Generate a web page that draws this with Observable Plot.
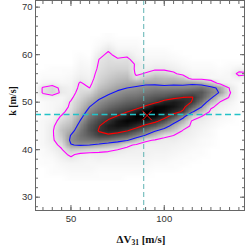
<!DOCTYPE html>
<html><head><meta charset="utf-8">
<script src="https://cdn.jsdelivr.net/npm/d3@7"></script>
<script src="https://cdn.jsdelivr.net/npm/@observablehq/plot@0.6"></script>
<style>html,body{margin:0;padding:0;background:#fff}svg{display:block}</style>
</head><body><div id="chart"></div>
<script>
// grid of sample centres (ΔV31 in m/s, k in m/s)
const xCenters = [30,35,40,45,50,55,60,65,70,75,80,85,90,95,100,105,110,115,120,125,130,135,140,145];
const yCenters = [34,35,36,37,38,39,40,41,42,43,44,45,46,47,48,49,50,51,52,53,54,55,56,57,58,59,60,61,62,63,64];
// posterior density (grey level, 0 = white, 100 = black), one column per xCenter, rows k = 34 ... 64
const densityColumns = [
/*30*/ [0,0,0,0,0,0,1,1,1,1,1,1,1,1,0,0,0,0,0,0,0,0,0,0,0,0,0,0,0,0,0],
/*35*/ [0,0,0,1,1,2,2,3,3,3,3,3,3,2,2,2,2,5,11,11,4,2,1,0,0,0,0,0,0,0,0],
/*40*/ [0,1,1,1,2,3,5,6,8,8,8,7,5,4,3,3,3,5,16,15,5,2,1,1,0,0,0,0,0,0,0],
/*45*/ [0,1,2,3,5,7,9,13,18,22,24,20,15,11,7,5,4,4,8,7,3,2,1,1,0,0,0,0,0,0,0],
/*50*/ [1,2,3,4,8,12,22,39,44,41,33,27,22,18,15,12,11,8,6,5,4,3,2,1,0,0,0,0,0,0,0],
/*55*/ [1,2,3,4,5,7,20,42,52,55,52,47,41,35,30,25,21,17,14,12,11,7,5,4,3,2,1,0,0,0,0],
/*60*/ [1,2,3,3,4,6,17,40,55,64,68,66,60,53,46,40,33,25,17,10,7,5,4,3,2,1,0,0,0,0,0],
/*65*/ [1,1,2,3,5,7,14,36,58,74,79,77,72,65,57,50,44,37,30,24,19,16,14,12,11,10,7,4,2,1,0],
/*70*/ [1,1,2,3,4,7,12,30,55,75,86,88,80,74,66,58,51,44,37,30,25,21,18,16,14,13,12,9,5,2,1],
/*75*/ [1,1,2,3,4,6,10,25,48,70,85,93,92,79,72,64,56,49,43,36,30,25,21,17,14,11,7,4,2,1,0],
/*80*/ [0,1,2,3,4,5,7,13,42,64,79,92,98,90,77,69,61,54,47,40,33,27,22,17,14,12,8,4,2,1,0],
/*85*/ [0,1,2,3,4,5,6,8,28,52,70,84,96,100,86,72,64,56,49,43,33,13,8,8,9,6,4,3,2,1,0],
/*90*/ [0,1,2,3,4,5,5,6,12,38,58,74,90,100,100,81,68,61,53,46,36,22,11,6,4,3,2,1,0,0,0],
/*95*/ [0,0,1,2,3,4,5,6,9,26,42,66,82,97,100,96,74,66,57,49,35,28,17,8,5,3,2,1,0,0,0],
/*100*/[0,0,1,2,3,4,5,6,7,13,32,50,70,84,95,97,85,68,58,47,33,26,16,8,5,3,2,1,0,0,0],
/*105*/[0,0,1,1,2,3,4,5,7,10,22,32,48,70,84,92,90,74,60,48,35,25,12,6,4,2,1,0,0,0,0],
/*110*/[0,0,0,1,1,2,3,4,5,7,9,18,30,46,76,83,85,78,62,48,34,20,6,4,2,1,0,0,0,0,0],
/*115*/[0,0,0,0,1,1,2,3,4,5,6,7,8,20,42,62,77,79,66,50,36,5,4,2,1,0,0,0,0,0,0],
/*120*/[0,0,0,0,0,1,1,2,2,3,4,5,7,10,25,40,54,64,66,55,30,6,3,2,1,0,0,0,0,0,0],
/*125*/[0,0,0,0,0,0,0,1,1,2,2,3,4,6,7,12,28,44,50,46,20,3,3,2,1,0,0,0,0,0,0],
/*130*/[0,0,0,0,0,0,0,0,0,0,0,1,2,3,4,6,9,20,38,35,5,3,2,1,0,0,0,0,0,0,0],
/*135*/[0,0,0,0,0,0,0,0,0,0,0,0,1,1,2,3,5,9,11,9,4,3,3,2,1,0,0,0,0,0,0],
/*140*/[0,0,0,0,0,0,0,0,0,0,0,0,0,0,1,1,1,2,2,2,2,6,13,5,1,0,0,0,0,0,0],
/*145*/[0,0,0,0,0,0,0,0,0,0,0,0,0,0,0,0,1,1,1,1,1,4,12,4,1,0,0,0,0,0,0]
];
// contour levels (outer, middle, inner)
const contourLevels = [10, 40, 78];
// reference values
const refDeltaV = [89];
const refK = [47.4];
const bestFit = [{dv: 90.8, k: 47.2}];
// axis ticks
const xMajor = [50, 100];
const xMinor = [35,40,45,50,55,60,65,70,75,80,85,90,95,100,105,110,115,120,125,130,135,140];
const yMajor = [30, 40, 50, 60, 70];
const yMinor = [28,30,32,34,36,38,40,42,44,46,48,50,52,54,56,58,60,62,64,66,68,70];

const nx = xCenters.length, ny = yCenters.length;
const dxCell = xCenters[1] - xCenters[0], dyCell = yCenters[1] - yCenters[0];
const grid = [];
for (let j = 0; j < ny; j++) for (let i = 0; i < nx; i++) grid.push(densityColumns[i][j]);
const bounds = {
  width: nx, height: ny,
  x1: xCenters[0] - dxCell / 2, x2: xCenters[nx - 1] + dxCell / 2,
  y1: yCenters[0] - dyCell / 2, y2: yCenters[ny - 1] + dyCell / 2
};
const contourColors = ["#ff00ff", "#1010ff", "#ff0000"];
const axisColor = "#666";

const chart = Plot.plot({
  width: 245, height: 247,
  marginLeft: 35, marginRight: 1, marginTop: 0, marginBottom: 37,
  x: {domain: [31, 143]},
  y: {domain: [27.2, 71.4]},
  color: {type: "linear", domain: [0, 100], range: ["#ffffff", "#000000"]},
  style: {fontFamily: "'Liberation Sans', Arial, sans-serif", fontSize: "9.5px", color: "#333", background: "#fff"},
  marks: [
    Plot.raster(grid, {...bounds, fill: d => d, clip: true}),
    ...contourLevels.map((t, i) => Plot.contour(grid, {...bounds, value: d => d, thresholds: [t], fill: "none", stroke: contourColors[i], strokeWidth: 1.1, clip: true})),
    Plot.ruleX(refDeltaV, {stroke: "#5eb3b3", strokeWidth: 1, strokeDasharray: "5,3"}),
    Plot.ruleY(refK, {stroke: "#22c2c8", strokeWidth: 1.6, strokeDasharray: "6,3.5"}),
    Plot.dot(bestFit, {x: "dv", y: "k", symbol: "times", r: 4.4, stroke: "#ff1010", strokeWidth: 1}),
    Plot.frame({stroke: axisColor}),
    Plot.axisX(xMinor, {anchor: "bottom", tickSize: 3, dy: -3, tickFormat: () => "", label: null, stroke: axisColor}),
    Plot.axisX(xMajor, {anchor: "bottom", tickSize: 5, dy: -5, tickFormat: () => "", label: null, stroke: axisColor}),
    Plot.axisX(xMinor, {anchor: "top", tickSize: 3, dy: 3, tickFormat: () => "", label: null, stroke: axisColor}),
    Plot.axisX(xMajor, {anchor: "top", tickSize: 5, dy: 5, tickFormat: () => "", label: null, stroke: axisColor}),
    Plot.axisY(yMinor, {anchor: "left", tickSize: 3, dx: 3, tickFormat: () => "", label: null, stroke: axisColor}),
    Plot.axisY(yMajor, {anchor: "left", tickSize: 5, dx: 5, tickFormat: () => "", label: null, stroke: axisColor}),
    Plot.axisY(yMinor, {anchor: "right", tickSize: 3, dx: -3, tickFormat: () => "", label: null, stroke: axisColor}),
    Plot.axisY(yMajor, {anchor: "right", tickSize: 5, dx: -5, tickFormat: () => "", label: null, stroke: axisColor}),
    Plot.axisX(xMajor, {anchor: "bottom", tickSize: 0, tickPadding: 5, label: null, fill: "#333"}),
    Plot.axisY(yMajor, {anchor: "left", tickSize: 0, tickPadding: 3, label: null, fill: "#333"})
  ]
});
document.getElementById("chart").appendChild(chart);

const svg = d3.select(chart);
const serif = "'Liberation Serif', 'Times New Roman', serif";
const xl = svg.append("text")
  .attr("x", 141).attr("y", 242.5)
  .attr("text-anchor", "middle").attr("font-family", serif).attr("font-weight", "bold")
  .attr("font-size", 11).attr("fill", "#111");
xl.append("tspan").text("ΔV");
xl.append("tspan").attr("font-size", 7.5).attr("dy", 2).text("31");
xl.append("tspan").attr("dy", -2).text(" [m/s]");
svg.append("text")
  .attr("transform", "translate(15.5,101) rotate(-90)")
  .attr("text-anchor", "middle").attr("font-family", serif).attr("font-weight", "bold")
  .attr("font-size", 10).attr("fill", "#111")
  .text("k [m/s]");
</script>
</body></html>
